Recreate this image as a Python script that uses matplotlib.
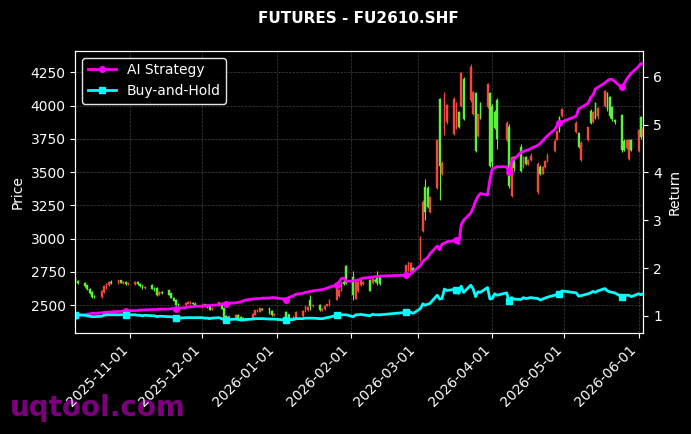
import matplotlib
matplotlib.use("Agg")
import matplotlib.pyplot as plt
import matplotlib.dates as mdates
import pandas as pd
import numpy as np

# trading calendar (SHFE), Oct 9 2025 .. Jun 3 2026
holidays = ['2026-01-01', '2026-01-02', '2026-02-16', '2026-02-17', '2026-02-18',
            '2026-02-19', '2026-02-20', '2026-02-23', '2026-04-06', '2026-05-01',
            '2026-05-04', '2026-05-05']
dates = pd.bdate_range('2025-10-09', '2026-06-03')
dates = dates[~dates.isin(pd.to_datetime(holidays))]

opens = [
    2705, 2680, 2665, 2648, 2622, 2598, 2568, 2562, 2600, 2638, 2655, 2672, 2665, 2685, 2670, 2672, 2660,
    2662, 2672, 2660, 2648, 2632, 2650, 2625, 2630, 2580, 2598, 2610, 2588, 2555, 2540, 2505, 2500, 2510, 2512, 2518, 2510,
    2485, 2505, 2498, 2492, 2470, 2495, 2515, 2475, 2420, 2410, 2400, 2425, 2410, 2405, 2395, 2405, 2430, 2455, 2450, 2470, 2475, 2455, 2430,
    2450, 2430, 2395, 2405, 2405, 2418, 2455, 2462, 2540, 2495, 2500, 2462, 2470, 2495, 2500, 2540, 2570, 2610, 2670, 2790,
    2710, 2550, 2610, 2650, 2660, 2690, 2665, 2690, 2710, 2710, 2750, 2760, 2750, 2780,
    2840, 3060, 3385, 3380, 3200, 3385, 4050, 3490, 3835, 3880, 3790, 3830, 3950, 4000, 4200, 4040, 3940, 4090, 3770, 4020, 3990, 4090,
    3995, 3950, 4040, 3740, 3840, 3320, 3610, 3690, 3540, 3610, 3560, 3590, 3350, 3535, 3490, 3540, 3585, 3660, 3745, 3910, 3925,
    3800, 3795, 3590, 3740, 3960, 3880, 4015, 3920, 4000, 4090, 4060, 3990, 3890, 3925, 3735, 3680, 3600, 3740,
    3660, 3910, 3770]
highs = [
    2715, 2690, 2672, 2655, 2630, 2605, 2580, 2612, 2650, 2668, 2685, 2690, 2690, 2692, 2680, 2678, 2672,
    2682, 2678, 2665, 2655, 2642, 2660, 2640, 2640, 2606, 2604, 2615, 2595, 2562, 2548, 2515, 2525, 2528, 2530, 2525, 2520,
    2510, 2512, 2510, 2498, 2485, 2525, 2522, 2480, 2428, 2420, 2430, 2430, 2415, 2410, 2405, 2440, 2465, 2470, 2480, 2482, 2480, 2460, 2440,
    2455, 2435, 2410, 2415, 2455, 2462, 2495, 2495, 2575, 2510, 2508, 2475, 2500, 2510, 2545, 2655, 2625, 2675, 2690, 2800,
    2760, 2675, 2680, 2695, 2680, 2700, 2705, 2700, 2760, 2715, 2805, 2825, 2825, 2790,
    3020, 3290, 3450, 3395, 3320, 3750, 4060, 3580, 4100, 4010, 4065, 4030, 3960, 4250, 4215, 4315, 4110, 4100, 3940, 4030, 4170, 4100,
    4010, 3970, 4055, 3880, 3860, 3620, 3620, 3710, 3620, 3620, 3600, 3640, 3575, 3550, 3545, 3590, 3640, 3745, 3815, 3920, 3985,
    3880, 3800, 3730, 3840, 3975, 3960, 4030, 3990, 4120, 4100, 4070, 4000, 3900, 3935, 3745, 3750, 3750, 3750,
    3820, 3920, 3830]
lows = [
    2670, 2660, 2635, 2612, 2585, 2555, 2550, 2555, 2590, 2625, 2645, 2660, 2660, 2665, 2660, 2655, 2652,
    2655, 2650, 2640, 2625, 2622, 2618, 2608, 2570, 2575, 2585, 2575, 2550, 2530, 2500, 2495, 2495, 2505, 2505, 2505, 2498,
    2480, 2490, 2482, 2462, 2465, 2490, 2470, 2405, 2405, 2400, 2395, 2395, 2390, 2388, 2390, 2400, 2425, 2445, 2445, 2460, 2430, 2420, 2420,
    2388, 2390, 2388, 2395, 2400, 2410, 2450, 2458, 2460, 2485, 2455, 2455, 2465, 2490, 2495, 2535, 2560, 2605, 2650, 2660,
    2540, 2545, 2600, 2645, 2655, 2605, 2660, 2675, 2650, 2650, 2740, 2755, 2745, 2745,
    2830, 3050, 3140, 3230, 3190, 3370, 3290, 3480, 3780, 3860, 3780, 3820, 3830, 3990, 3890, 4030, 3930, 3650, 3760, 3900, 3980, 3540,
    3530, 3820, 3670, 3730, 3380, 3310, 3510, 3500, 3530, 3550, 3550, 3580, 3335, 3480, 3485, 3530, 3575, 3650, 3740, 3800, 3915,
    3790, 3680, 3580, 3730, 3860, 3870, 3900, 3900, 3990, 3960, 3910, 3880, 3860, 3650, 3660, 3670, 3590, 3660,
    3650, 3750, 3760]
closes = [
    2680, 2668, 2645, 2620, 2595, 2565, 2560, 2605, 2640, 2660, 2675, 2668, 2685, 2670, 2674, 2662, 2666,
    2676, 2658, 2645, 2632, 2636, 2625, 2615, 2580, 2598, 2590, 2580, 2555, 2535, 2505, 2500, 2518, 2522, 2520, 2512, 2505,
    2505, 2500, 2490, 2468, 2480, 2520, 2475, 2415, 2410, 2415, 2425, 2400, 2395, 2395, 2400, 2435, 2460, 2465, 2475, 2468, 2440, 2430, 2432,
    2395, 2395, 2405, 2402, 2450, 2455, 2490, 2488, 2495, 2500, 2462, 2468, 2495, 2505, 2540, 2650, 2615, 2670, 2660, 2665,
    2575, 2670, 2670, 2690, 2672, 2610, 2700, 2685, 2670, 2660, 2800, 2820, 2815, 2755,
    3010, 3275, 3200, 3240, 3310, 3740, 3550, 3570, 4075, 4000, 4050, 4020, 3840, 4240, 3900, 4290, 4100, 3660, 3935, 3910, 4160, 3550,
    3575, 3830, 3750, 3870, 3400, 3610, 3530, 3510, 3610, 3560, 3590, 3620, 3560, 3490, 3535, 3580, 3630, 3735, 3805, 3815, 3975,
    3870, 3690, 3720, 3835, 3870, 3950, 3910, 3980, 4110, 3975, 3920, 3900, 3880, 3665, 3670, 3740, 3740, 3670,
    3815, 3765, 3820]

ai_return = [
    1.00, 1.01, 1.02, 1.03, 1.04, 1.05, 1.05, 1.06, 1.07, 1.07, 1.08, 1.08, 1.09, 1.09, 1.10, 1.10, 1.10,
    1.11, 1.11, 1.12, 1.12, 1.12, 1.13, 1.13, 1.13, 1.14, 1.14, 1.14, 1.15, 1.15, 1.15, 1.16, 1.17, 1.18, 1.19, 1.19, 1.20,
    1.20, 1.21, 1.21, 1.22, 1.22, 1.23, 1.24, 1.25, 1.25, 1.26, 1.27, 1.28, 1.29, 1.31, 1.33, 1.35, 1.35, 1.36, 1.36, 1.37, 1.37, 1.38, 1.38,
    1.34, 1.38, 1.40, 1.42, 1.45, 1.47, 1.49, 1.50, 1.51, 1.52, 1.54, 1.55, 1.56, 1.58, 1.60, 1.64, 1.70, 1.78, 1.79, 1.72,
    1.73, 1.74, 1.75, 1.77, 1.79, 1.80, 1.81, 1.82, 1.82, 1.83, 1.85, 1.84, 1.88, 1.93,
    2.05, 2.14, 2.18, 2.22, 2.30, 2.46, 2.38, 2.50, 2.52, 2.55, 2.57, 2.58, 2.51, 2.90, 3.00, 3.15, 3.26, 3.40, 3.50, 3.56, 3.53, 3.85,
    4.08, 4.10, 4.12, 4.12, 4.00, 4.22, 4.28, 4.42, 4.44, 4.46, 4.47, 4.50, 4.57, 4.61, 4.66, 4.72, 4.77, 4.90, 4.98, 5.03, 5.06,
    5.18, 5.33, 5.36, 5.45, 5.57, 5.62, 5.75, 5.78, 5.88, 5.92, 5.95, 5.95, 5.91, 5.78, 5.86, 5.95, 6.02, 6.08,
    6.22, 6.28, 6.27]
bh_return = [
    1.02, 1.02, 1.01, 1.00, 0.99, 0.98, 0.98, 0.99, 1.01, 1.02, 1.02, 1.02, 1.02, 1.02, 1.02, 1.02, 1.02,
    1.02, 1.01, 1.01, 1.00, 1.01, 1.00, 1.00, 0.98, 0.99, 0.99, 0.98, 0.98, 0.97, 0.96, 0.95, 0.96, 0.96, 0.96, 0.96, 0.96,
    0.96, 0.95, 0.95, 0.94, 0.95, 0.96, 0.94, 0.92, 0.92, 0.92, 0.93, 0.92, 0.91, 0.91, 0.92, 0.93, 0.94, 0.94, 0.94, 0.94, 0.93, 0.93, 0.93,
    0.91, 0.91, 0.92, 0.92, 0.94, 0.94, 0.95, 0.95, 0.95, 0.95, 0.94, 0.94, 0.95, 0.96, 0.97, 1.01, 1.00, 1.02, 1.02, 1.02,
    0.98, 1.02, 1.02, 1.03, 1.02, 1.00, 1.03, 1.02, 1.02, 1.02, 1.07, 1.08, 1.07, 1.05,
    1.15, 1.25, 1.22, 1.24, 1.26, 1.43, 1.35, 1.36, 1.56, 1.53, 1.55, 1.53, 1.47, 1.62, 1.49, 1.64, 1.56, 1.40, 1.50, 1.49, 1.59, 1.35,
    1.36, 1.46, 1.43, 1.48, 1.30, 1.38, 1.35, 1.34, 1.38, 1.36, 1.37, 1.38, 1.36, 1.33, 1.35, 1.37, 1.39, 1.43, 1.45, 1.46, 1.52,
    1.48, 1.41, 1.42, 1.46, 1.48, 1.51, 1.49, 1.52, 1.57, 1.52, 1.50, 1.49, 1.48, 1.40, 1.40, 1.43, 1.43, 1.40,
    1.46, 1.44, 1.46]

up_color = '#f0483c'
down_color = '#5cf23c'

fig, ax = plt.subplots(figsize=(6.91, 4.34), dpi=100)
fig.patch.set_facecolor('black')
ax.set_facecolor('black')
fig.subplots_adjust(left=0.109, right=0.931, top=0.883, bottom=0.233)

x = mdates.date2num(dates.to_pydatetime())
o = np.array(opens)
c = np.array(closes)
colors = np.where(c >= o, up_color, down_color)

# candles: wick + body
ax.vlines(x, lows, highs, colors=colors, linewidth=0.8, zorder=2)
ax.bar(x, np.abs(c - o) + 2, bottom=np.minimum(o, c) - 1, width=0.7,
       color=colors, edgecolor=colors, linewidth=0.3, zorder=3)

ax.set_ylabel('Price', color='white', fontsize=10)
ax.grid(True, color='gray', linestyle='--', linewidth=0.5, alpha=0.5)
ax.set_axisbelow(True)

ax2 = ax.twinx()
ax2.plot(x, ai_return, color='magenta', linewidth=2, marker='o', markersize=4,
         markevery=15, label='AI Strategy')
ax2.plot(x, bh_return, color='cyan', linewidth=2, marker='s', markersize=4,
         markevery=15, label='Buy-and-Hold')
ax2.set_ylabel('Return', color='white', fontsize=10)

ax.set_xlim(x[0], x[-1])
ax.xaxis.set_major_locator(mdates.MonthLocator())
ax.xaxis.set_major_formatter(mdates.DateFormatter('%Y-%m-%d'))
plt.setp(ax.get_xticklabels(), rotation=45, ha='right')

for a in (ax, ax2):
    a.tick_params(colors='white', labelsize=10)
    for sp in a.spines.values():
        sp.set_color('white')

leg = ax2.legend(loc='upper left', fontsize=10, facecolor='black',
                 edgecolor='white', framealpha=0.9)
for t in leg.get_texts():
    t.set_color('white')

fig.text(0.518, 0.958, 'FUTURES - FU2610.SHF', color='white', fontsize=11,
         fontweight='bold', ha='center', va='center')
fig.text(0.014, 0.06, 'uqtool.com', color='#8b008b', fontsize=20,
         fontweight='bold', ha='left', va='center', alpha=0.9, zorder=-1)

fig.savefig('out.png', dpi=100, facecolor='black')
